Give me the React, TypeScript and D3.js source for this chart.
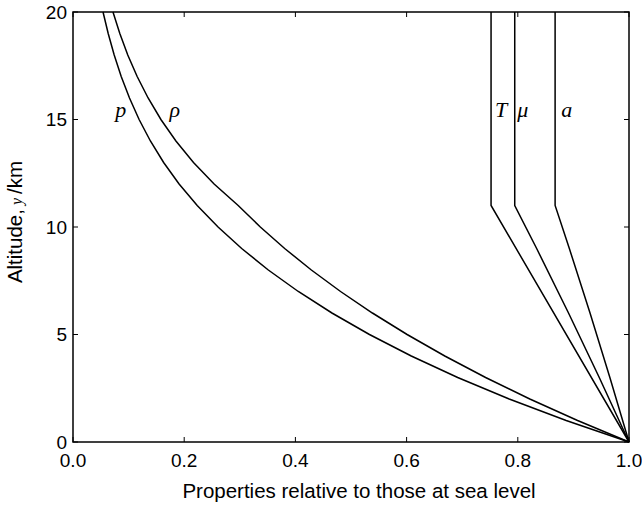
import React from 'react';
import * as d3 from 'd3';

// altitude in km
const altitudes = [0, 1, 2, 3, 4, 5, 6, 7, 8, 9, 10, 11, 12, 13, 14, 15, 16, 17, 18, 19, 20];
// pressure ratio p/p0
const pressure = [1, 0.887, 0.7845, 0.6919, 0.6084, 0.5332, 0.4657, 0.4052, 0.3513, 0.3034, 0.2609, 0.2234,
  0.1908, 0.163, 0.1392, 0.1189, 0.1016, 0.0867, 0.0741, 0.0633, 0.054];
// density ratio rho/rho0
const density = [1, 0.9075, 0.8216, 0.7421, 0.6687, 0.6009, 0.5385, 0.4812, 0.4287, 0.3807, 0.3369, 0.2971,
  0.2538, 0.2167, 0.1851, 0.1581, 0.1351, 0.1154, 0.0985, 0.0842, 0.0719];

const tempAlt = [0, 11, 20];
const temperature = [1, 0.7519, 0.7519];

const viscAlt = [0, 3, 6, 9, 11, 20];
const viscosity = [1, 0.9465, 0.8912, 0.8339, 0.7945, 0.7945];

const soundAlt = [0, 3, 6, 9, 11, 20];
const soundSpeed = [1, 0.9656, 0.9299, 0.8927, 0.8671, 0.8671];

const xTicks = [0, 0.2, 0.4, 0.6, 0.8, 1.0];
const yTicks = [0, 5, 10, 15, 20];

// curve labels: [text, x value, altitude]
const curveLabels: [string, number, number][] = [
  ['p', 0.086, 15.1],
  ['ρ', 0.183, 15.1],
  ['T', 0.77, 15.1],
  ['μ', 0.809, 15.1],
  ['a', 0.888, 15.1],
];

const W = 642;
const H = 506;
const margin = { top: 12, right: 13, bottom: 64, left: 73 };

export default function App() {
  const x = d3.scaleLinear().domain([0, 1]).range([margin.left, W - margin.right]);
  const y = d3.scaleLinear().domain([0, 20]).range([H - margin.bottom, margin.top]);

  const line = d3.line<[number, number]>().x(d => x(d[0])).y(d => y(d[1]));
  const series: [number, number][][] = [
    pressure.map((v, i) => [v, altitudes[i]]),
    density.map((v, i) => [v, altitudes[i]]),
    temperature.map((v, i) => [v, tempAlt[i]]),
    viscosity.map((v, i) => [v, viscAlt[i]]),
    soundSpeed.map((v, i) => [v, soundAlt[i]]),
  ];

  const x0 = x(0), x1 = x(1), y0 = y(0), y1 = y(20);
  const tl = 5;
  const sans = 'Liberation Sans, Arial, sans-serif';
  const serif = 'Liberation Serif, DejaVu Serif, serif';

  return (
    <svg width={W} height={H} style={{ position: 'absolute', left: 0, top: 0, background: '#fff' }}>
      <g fill="none" stroke="#000" strokeWidth={1.5}>
        {series.map((s, i) => <path key={i} d={line(s) || ''} />)}
      </g>
      {/* ticks, mirrored and inward */}
      <g stroke="#000" strokeWidth={1}>
        {xTicks.map(t => (
          <g key={'x' + t}>
            <line x1={x(t)} x2={x(t)} y1={y0} y2={y0 - tl} />
            <line x1={x(t)} x2={x(t)} y1={y1} y2={y1 + tl} />
          </g>
        ))}
        {yTicks.map(t => (
          <g key={'y' + t}>
            <line x1={x0} x2={x0 + tl} y1={y(t)} y2={y(t)} />
            <line x1={x1} x2={x1 - tl} y1={y(t)} y2={y(t)} />
          </g>
        ))}
      </g>
      <rect x={x0} y={y1} width={x1 - x0} height={y0 - y1} fill="none" stroke="#000" strokeWidth={1.5} />
      <g fontFamily={sans} fontSize={19} fill="#000">
        {xTicks.map(t => (
          <text key={'xl' + t} x={x(t)} y={y0 + 25} textAnchor="middle">{t.toFixed(1)}</text>
        ))}
        {yTicks.map(t => (
          <text key={'yl' + t} x={x0 - 6} y={y(t)} dy="0.35em" textAnchor="end">{t}</text>
        ))}
      </g>
      <text x={(x0 + x1) / 2 + 8} y={H - 8} textAnchor="middle" fontFamily={sans} fontSize={20.5}>
        Properties relative to those at sea level
      </text>
      <text transform={`translate(${22},${(y0 + y1) / 2 - 5}) rotate(-90)`} textAnchor="middle" fontFamily={sans} fontSize={20.5}>
        Altitude,<tspan fontFamily={serif} fontStyle="italic" fontSize={16}> y </tspan>/km
      </text>
      <g fontFamily={serif} fontStyle="italic" fontSize={22} textAnchor="middle">
        {curveLabels.map(([s, vx, vy]) => (
          <text key={s} x={x(vx)} y={y(vy)}>{s}</text>
        ))}
      </g>
    </svg>
  );
}
